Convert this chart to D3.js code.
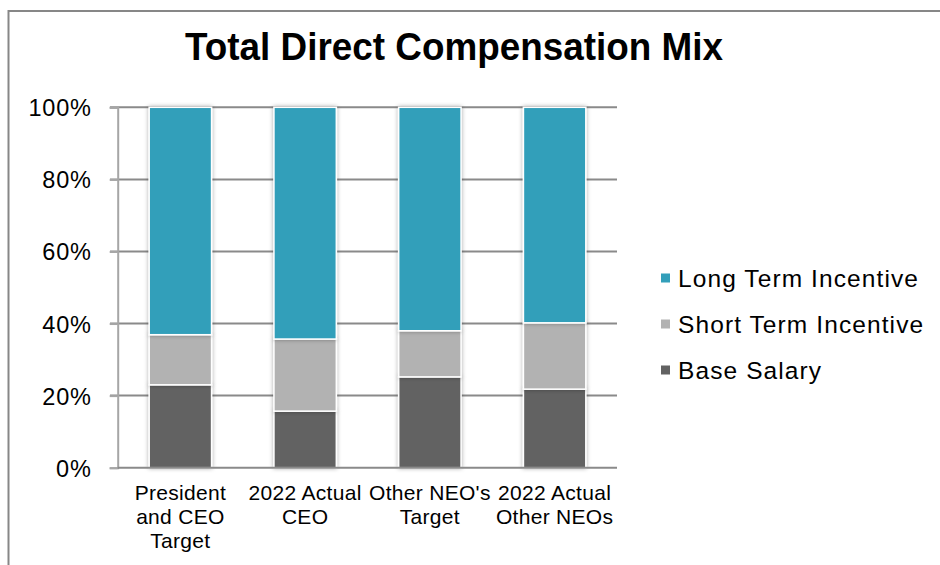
<!DOCTYPE html>
<html><head><meta charset="utf-8">
<script src="https://cdn.jsdelivr.net/npm/d3@7"></script>
<style>body{margin:0;background:#fff}svg{display:block;font-family:"Liberation Sans",Arial,sans-serif}</style>
</head><body><svg id="c" width="940" height="565"></svg>
<script>
const categories = [["President","and CEO","Target"],["2022 Actual","CEO"],["Other NEO's","Target"],["2022 Actual","Other NEOs"]];
const seriesNames = ["Base Salary","Short Term Incentive","Long Term Incentive"];
const baseSalary = [23.0, 15.7, 25.2, 21.8];
const shortTerm = [13.9, 20.0, 12.8, 18.4];
const longTerm = [63.1, 64.3, 62.0, 59.8];
const colors = ["#626262","#b2b2b2","#339fba"];
const yTicks = [0,20,40,60,80,100];

const svg = d3.select("#c");
const defs = svg.append("defs");
const f = defs.append("filter").attr("id","sh").attr("x","-20%").attr("y","-5%").attr("width","140%").attr("height","110%");
f.append("feDropShadow").attr("dx",0).attr("dy",0).attr("stdDeviation",2.2).attr("flood-color","#000").attr("flood-opacity",0.35);

// frame
svg.append("path").attr("d","M8.5,565 V11 H940").attr("fill","none").attr("stroke","#878787").attr("stroke-width",2);

// title
svg.append("text").attr("x",454).attr("y",60).attr("text-anchor","middle")
  .attr("font-size",38).attr("font-weight","bold").attr("textLength",538).attr("lengthAdjust","spacingAndGlyphs")
  .text("Total Direct Compensation Mix");

const x = d3.scaleBand().domain(d3.range(categories.length)).range([118,617]).paddingInner(0.5).paddingOuter(0.25);
const y = d3.scaleLinear().domain([0,100]).range([467.7,107.3]);

// gridlines
svg.append("g").selectAll("line").data(yTicks.filter(d=>d>0)).join("line")
  .attr("x1",110).attr("x2",617).attr("y1",d=>y(d)).attr("y2",d=>y(d))
  .attr("stroke","#8a8a8a").attr("stroke-width",2);

// y axis
const yAxis = d3.axisLeft(y).tickValues(yTicks).tickFormat(d=>d+"%").tickSize(8).tickPadding(18);
const ya = svg.append("g").attr("transform","translate(117.7,0)").call(yAxis);
ya.select(".domain").attr("stroke","#a6a6a6").attr("stroke-width",2);
ya.selectAll(".tick line").attr("stroke","#a6a6a6").attr("stroke-width",2);
ya.selectAll(".tick text").attr("font-size",23.5).attr("fill","#000").attr("letter-spacing",0.8).attr("font-family","Liberation Sans, Arial, sans-serif").attr("dy","0.36em");

// stacks
const rows = categories.map((c,i)=>({i, "Base Salary":baseSalary[i], "Short Term Incentive":shortTerm[i], "Long Term Incentive":longTerm[i]}));
const stack = d3.stack().keys(seriesNames)(rows);
const barG = svg.append("g");
stack.forEach((s,k)=>{
  barG.append("g").attr("filter","url(#sh)").selectAll("rect").data(s).join("rect")
    .attr("x",d=>x(d.data.i)).attr("width",x.bandwidth())
    .attr("y",d=>y(d[1])).attr("height",d=>y(d[0])-y(d[1]))
    .attr("fill",colors[k]).attr("stroke","#fff").attr("stroke-width",1.5);
});

// bottom axis line
svg.append("line").attr("x1",117.7).attr("x2",617).attr("y1",467.7).attr("y2",467.7).attr("stroke","#8a8a8a").attr("stroke-width",2);

// category labels
categories.forEach((lines,i)=>{
  const t = svg.append("text").attr("text-anchor","middle").attr("font-size",21).attr("letter-spacing",0.3).attr("fill","#000");
  lines.forEach((ln,j)=>t.append("tspan").attr("x",x(i)+x.bandwidth()/2).attr("y",500+j*23.8).text(ln));
});

// legend
const legOrder = ["Long Term Incentive","Short Term Incentive","Base Salary"];
legOrder.forEach((n,j)=>{
  const cy = 278 + j*46;
  svg.append("rect").attr("x",661).attr("y",cy-4.5).attr("width",9).attr("height",9).attr("fill",colors[seriesNames.indexOf(n)]);
  svg.append("text").attr("x",678).attr("y",cy+9).attr("font-size",24.5).attr("letter-spacing",1.1).attr("fill","#000").text(n);
});
</script></body></html>
